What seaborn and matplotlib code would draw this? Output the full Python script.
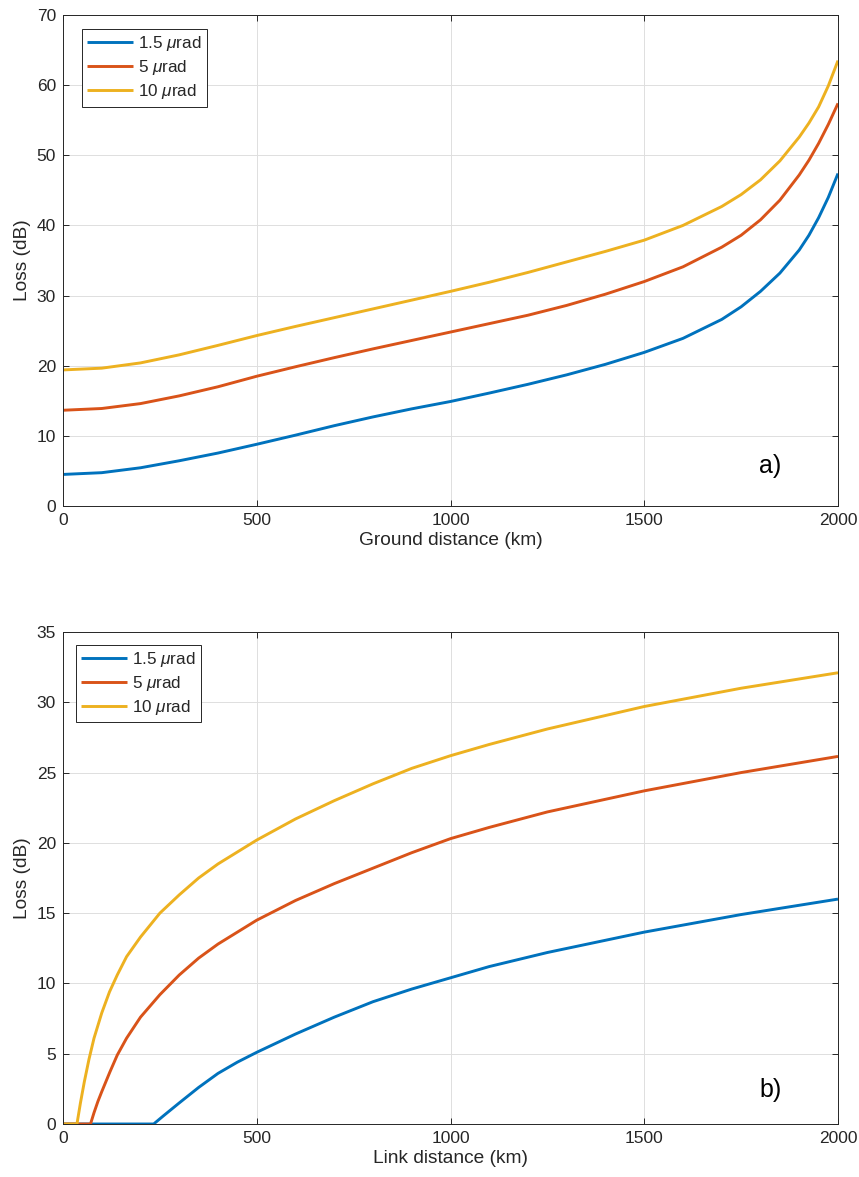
import numpy as np
import pandas as pd
import matplotlib
matplotlib.use("Agg")
import matplotlib.pyplot as plt
import seaborn as sns

# ---------------- data ----------------
series_labels = [r"1.5 $\mu$rad", r"5 $\mu$rad", r"10 $\mu$rad"]
colors = ["#0072BD", "#D95319", "#EDB120"]

# Panel a) : loss vs ground distance
ground_km = [0, 100, 200, 300, 400, 500, 600, 700, 800, 900, 1000, 1100, 1200, 1300,
             1400, 1500, 1600, 1700, 1750, 1800, 1850, 1900, 1925, 1950, 1975, 2000]
a_loss_15 = [4.5, 4.75, 5.45, 6.45, 7.55, 8.8, 10.1, 11.45, 12.7, 13.85, 14.9, 16.1,
             17.35, 18.7, 20.2, 21.9, 23.9, 26.6, 28.4, 30.6, 33.2, 36.5, 38.6, 41.1,
             44.0, 47.4]
a_loss_5 = [13.65, 13.9, 14.6, 15.7, 17.0, 18.5, 19.85, 21.15, 22.4, 23.6, 24.8, 26.0,
            27.2, 28.6, 30.2, 32.0, 34.1, 36.9, 38.6, 40.8, 43.6, 47.2, 49.3, 51.7,
            54.4, 57.4]
a_loss_10 = [19.4, 19.65, 20.4, 21.55, 22.9, 24.3, 25.6, 26.85, 28.1, 29.35, 30.6, 31.9,
             33.3, 34.8, 36.3, 37.9, 40.0, 42.7, 44.4, 46.5, 49.2, 52.6, 54.6, 56.9,
             59.9, 63.5]

# Panel b) : loss vs link distance
b_km_15 = [0, 234, 260, 300, 350, 400, 450, 500, 600, 700, 800, 900, 1000, 1100, 1250,
           1500, 1750, 2000]
b_loss_15 = [0, 0, 0.6, 1.5, 2.6, 3.6, 4.4, 5.1, 6.4, 7.6, 8.7, 9.6, 10.4, 11.2, 12.2,
             13.65, 14.9, 16.0]
b_km_5 = [0, 71, 80, 90, 100, 121, 140, 164, 200, 250, 300, 350, 400, 500, 600, 700,
          800, 900, 1000, 1100, 1250, 1500, 1750, 2000]
b_loss_5 = [0, 0, 0.8, 1.6, 2.3, 3.7, 4.9, 6.1, 7.6, 9.2, 10.6, 11.8, 12.8, 14.5, 15.9,
            17.1, 18.2, 19.3, 20.3, 21.1, 22.2, 23.7, 25.0, 26.15]
b_km_10 = [0, 36, 45, 55, 67, 80, 100, 120, 140, 164, 200, 250, 300, 350, 400, 500, 600,
           700, 800, 900, 1000, 1100, 1250, 1500, 1750, 2000]
b_loss_10 = [0, 0, 1.5, 3.0, 4.6, 6.1, 7.9, 9.4, 10.6, 11.9, 13.3, 15.0, 16.3, 17.5,
             18.5, 20.2, 21.7, 23.0, 24.2, 25.3, 26.2, 27.0, 28.1, 29.7, 31.0, 32.1]

x_ticks = [0, 500, 1000, 1500, 2000]
a_yticks = list(range(0, 71, 10))
b_yticks = list(range(0, 36, 5))

# ---------------- style ----------------
sns.set_style("ticks")
plt.rcParams["font.family"] = ["Liberation Sans", "DejaVu Sans"]
plt.rcParams["mathtext.fontset"] = "custom"
plt.rcParams["mathtext.rm"] = "Liberation Sans"
plt.rcParams["mathtext.it"] = "Liberation Sans:italic"
AX_COL = "#262626"

def long_df(xs_list, ys_list):
    frames = []
    for lab, xs, ys in zip(series_labels, xs_list, ys_list):
        frames.append(pd.DataFrame({"x": xs, "loss": ys, "series": lab}))
    return pd.concat(frames, ignore_index=True)

df_a = long_df([ground_km] * 3, [a_loss_15, a_loss_5, a_loss_10])
df_b = long_df([b_km_15, b_km_5, b_km_10], [b_loss_15, b_loss_5, b_loss_10])

W, H = 859, 1177
fig = plt.figure(figsize=(W / 100, H / 100), dpi=100)
ax_a = fig.add_axes([63 / W, 1 - 506 / H, 775 / W, 491 / H])
ax_b = fig.add_axes([63 / W, 1 - 1124 / H, 775 / W, 492 / H])

palette = dict(zip(series_labels, colors))

def style_axis(ax, df, yticks, ylim, xlabel, tag, tag_xy, leg_anchor):
    sns.lineplot(data=df, x="x", y="loss", hue="series", hue_order=series_labels,
                 palette=palette, estimator=None, sort=False, linewidth=2.1,
                 legend=False, ax=ax)
    for ln in ax.lines:
        ln.set_solid_joinstyle("round")
        ln.set_solid_capstyle("butt")
    ax.set_xlim(0, 2000)
    ax.set_ylim(*ylim)
    ax.set_xticks(x_ticks)
    ax.set_yticks(yticks)
    ax.grid(True, color="#dedede", linewidth=0.7)
    ax.set_axisbelow(True)
    for sp in ax.spines.values():
        sp.set_visible(True)
        sp.set_color(AX_COL)
        sp.set_linewidth(0.7)
    ax.tick_params(direction="in", top=True, right=True, length=4, width=0.7,
                   color=AX_COL, labelcolor=AX_COL, labelsize=12.5, pad=5)
    ax.set_xlabel(xlabel, fontsize=13.8, color=AX_COL, labelpad=3)
    ax.set_ylabel("Loss (dB)", fontsize=13.8, color=AX_COL, labelpad=4)
    ax.text(tag_xy[0], tag_xy[1], tag, fontsize=18, ha="center", va="center",
            color="black")
    leg = ax.legend(ax.lines[:3], series_labels, loc="upper left",
                    bbox_to_anchor=leg_anchor, borderaxespad=0, fontsize=12.3,
                    frameon=True, fancybox=False, framealpha=1,
                    edgecolor=AX_COL, handlelength=2.7, handletextpad=0.3,
                    labelspacing=0.3, borderpad=0.3)
    leg.get_frame().set_linewidth(0.7)

style_axis(ax_a, df_a, a_yticks, (0, 70), "Ground distance (km)", "a)",
           (1825, 5.7), (19 / 775, 1 - 14 / 491))
style_axis(ax_b, df_b, b_yticks, (0, 35), "Link distance (km)", "b)",
           (1827, 2.4), (13 / 775, 1 - 13 / 492))

fig.savefig("out.png", dpi=100)
